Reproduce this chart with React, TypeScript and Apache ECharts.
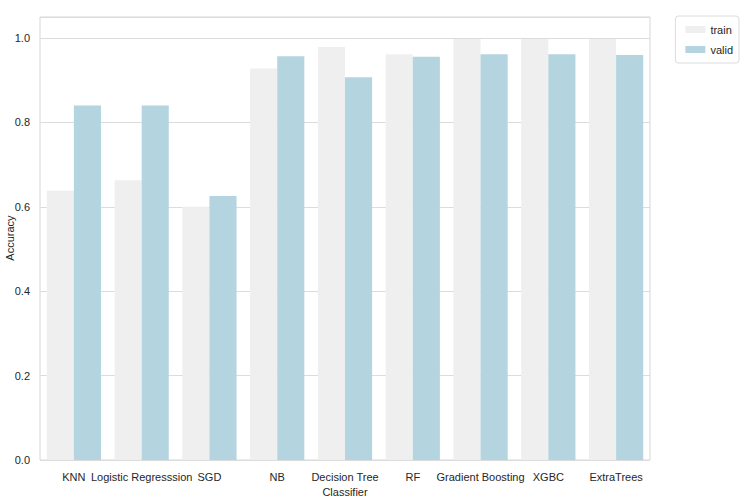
import React, { useEffect, useRef } from "react";
import * as echarts from "echarts";

const categories = ["KNN", "Logistic Regresssion", "SGD", "NB", "Decision Tree\nClassifier", "RF", "Gradient Boosting", "XGBC", "ExtraTrees"];
const trainValues = [0.638, 0.663, 0.600, 0.928, 0.979, 0.962, 0.998, 0.998, 0.998];
const validValues = [0.840, 0.840, 0.626, 0.957, 0.907, 0.956, 0.962, 0.962, 0.960];
const seriesNames = ["train", "valid"];
const yAxisTitle = "Accuracy";

export default function App() {
  const ref = useRef<HTMLDivElement>(null);
  useEffect(() => {
    if (!ref.current) return;
    const chart = echarts.init(ref.current, null, { renderer: "svg" });
    const font = "'Liberation Sans', Arial, sans-serif";
    chart.setOption({
      animation: false,
      backgroundColor: "#ffffff",
      textStyle: { fontFamily: font },
      grid: {
        left: 40,
        right: 103,
        top: 17,
        bottom: 42,
        containLabel: false,
        outerBoundsMode: "none",
        show: true,
        borderColor: "#d6d6d6",
        borderWidth: 1,
        backgroundColor: "transparent",
      },
      graphic: [
        {
          type: "text",
          x: 10,
          y: 238,
          rotation: Math.PI / 2,
          style: {
            text: yAxisTitle,
            fontSize: 11,
            fill: "#262626",
            fontFamily: font,
            align: "center",
            verticalAlign: "middle",
          },
        },
      ],
      legend: {
        data: seriesNames,
        orient: "vertical",
        right: 14,
        top: 16,
        itemWidth: 20,
        itemHeight: 7,
        itemGap: 9,
        padding: [8, 6, 8, 10],
        borderColor: "#dcdcdc",
        borderWidth: 1,
        borderRadius: 3,
        textStyle: { fontSize: 11, color: "#262626", fontFamily: font },
        icon: "rect",
      },
      xAxis: {
        type: "category",
        data: categories,
        axisLine: { show: false },
        axisTick: { show: false },
        splitLine: { show: false },
        axisLabel: {
          interval: 0,
          fontSize: 11,
          color: "#262626",
          margin: 9,
          lineHeight: 15,
          fontFamily: font,
        },
      },
      yAxis: {
        type: "value",
        min: 0,
        max: 1.05,
        interval: 0.2,
        axisLine: { show: false },
        axisTick: { show: false },
        axisLabel: {
          showMaxLabel: false,
          fontSize: 11,
          color: "#262626",
          margin: 10,
          formatter: (v: number) => v.toFixed(1),
          fontFamily: font,
        },
        splitLine: { show: true, lineStyle: { color: "#dcdcdc", width: 1 } },
      },
      series: [
        {
          name: seriesNames[0],
          type: "bar",
          data: trainValues,
          itemStyle: { color: "#efefef" },
          barGap: "0%",
          barCategoryGap: "20%",
        },
        {
          name: seriesNames[1],
          type: "bar",
          data: validValues,
          itemStyle: { color: "#b4d4df" },
          barGap: "0%",
          barCategoryGap: "20%",
        },
      ],
    });
    return () => chart.dispose();
  }, []);
  return <div ref={ref} style={{ width: 753, height: 502, position: "absolute", left: 0, top: 0 }} />;
}
